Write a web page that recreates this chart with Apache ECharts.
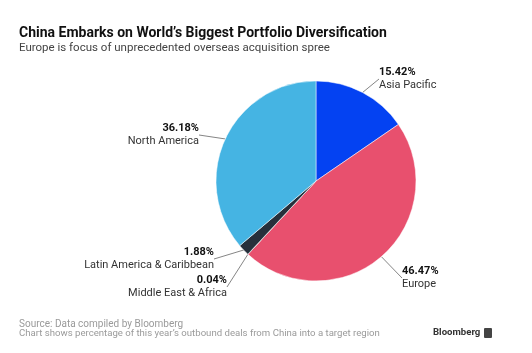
<!doctype html>
<html lang="en">
<head>
  <meta charset="UTF-8">
  <script src="https://cdn.jsdelivr.net/npm/echarts@6/dist/echarts.min.js"></script>
  <title>China outbound deals</title>
  <style type="text/css">
    html, body { width: 100%; height: 100%; margin: 0; padding: 0; background: #fff; }
    #canvas { width: 532px; height: 353px; }
  </style>
</head>
<body>
<div id="canvas"></div>
<script type="text/javascript">
  const regions = ['Asia Pacific', 'Europe', 'Middle East & Africa', 'Latin America & Caribbean', 'North America']
  const shares = [15.42, 46.47, 0.04, 1.88, 36.18]
  const colors = ['#0442f2', '#e8506e', '#8a8a8a', '#26303c', '#45b4e3']
  // label anchor per slice: x, y (block centre), side
  const labelPos = [
    [379, 79, 'left'],
    [402, 278, 'left'],
    [227, 287, 'right'],
    [214, 259, 'right'],
    [199, 135, 'right']
  ]

  const chart = echarts.init(document.getElementById('canvas'))
  const font = 'Roboto, "Liberation Sans", sans-serif'

  chart.setOption({
    animation: false,
    color: colors,
    graphic: [
      { type: 'text', left: 19, top: 26, style: { text: 'China Embarks on World\u2019s Biggest Portfolio Diversification', font: 'bold 14px ' + font, fill: '#111' } },
      { type: 'text', left: 19, top: 42, style: { text: 'Europe is focus of unprecedented overseas acquisition spree', font: '11.5px ' + font, fill: '#444' } },
      { type: 'text', left: 19, top: 319, style: { text: 'Source: Data compiled by Bloomberg', font: '10px ' + font, fill: '#9a9a9a' } },
      { type: 'text', left: 19, top: 329, style: { text: 'Chart shows percentage of this year\u2019s outbound deals from China into a target region', font: '9.6px ' + font, fill: '#9a9a9a' } },
      { type: 'text', left: 433, top: 328, style: { text: 'Bloomberg', font: 'bold 9.6px ' + font, fill: '#333' } },
      { type: 'rect', left: 484, top: 328, shape: { width: 8, height: 10, r: 1 }, style: { fill: '#444' } }
    ],
    series: [
      {
        type: 'pie',
        center: [316, 181],
        radius: 100,
        startAngle: 90,
        clockwise: true,
        itemStyle: { borderColor: '#ffffff', borderWidth: 0.5 },
        label: {
          show: true,
          position: 'outside',
          fontFamily: 'Roboto, "Liberation Sans", sans-serif',
          formatter: function (p) {
            const s = labelPos[p.dataIndex][2] === 'right' ? 'R' : 'L'
            return '{v' + s + '|' + p.value.toFixed(2) + '%}\n{n' + s + '|' + p.name + '}'
          },
          rich: {
            vL: { fontSize: 11, fontWeight: 'bold', color: '#111', lineHeight: 13, align: 'left' },
            nL: { fontSize: 11, color: '#333', lineHeight: 13, align: 'left' },
            vR: { fontSize: 11, fontWeight: 'bold', color: '#111', lineHeight: 13, align: 'right' },
            nR: { fontSize: 11, color: '#333', lineHeight: 13, align: 'right' }
          }
        },
        labelLine: { show: true, length: 10, length2: 0, lineStyle: { color: '#666', width: 0.8 } },
        labelLayout: function (params) {
          const p = labelPos[params.dataIndex]
          return { x: p[0], y: p[1], align: p[2], verticalAlign: 'middle' }
        },
        data: regions.map((name, i) => ({ name: name, value: shares[i] }))
      }
    ]
  })
</script>
</body>
</html>
